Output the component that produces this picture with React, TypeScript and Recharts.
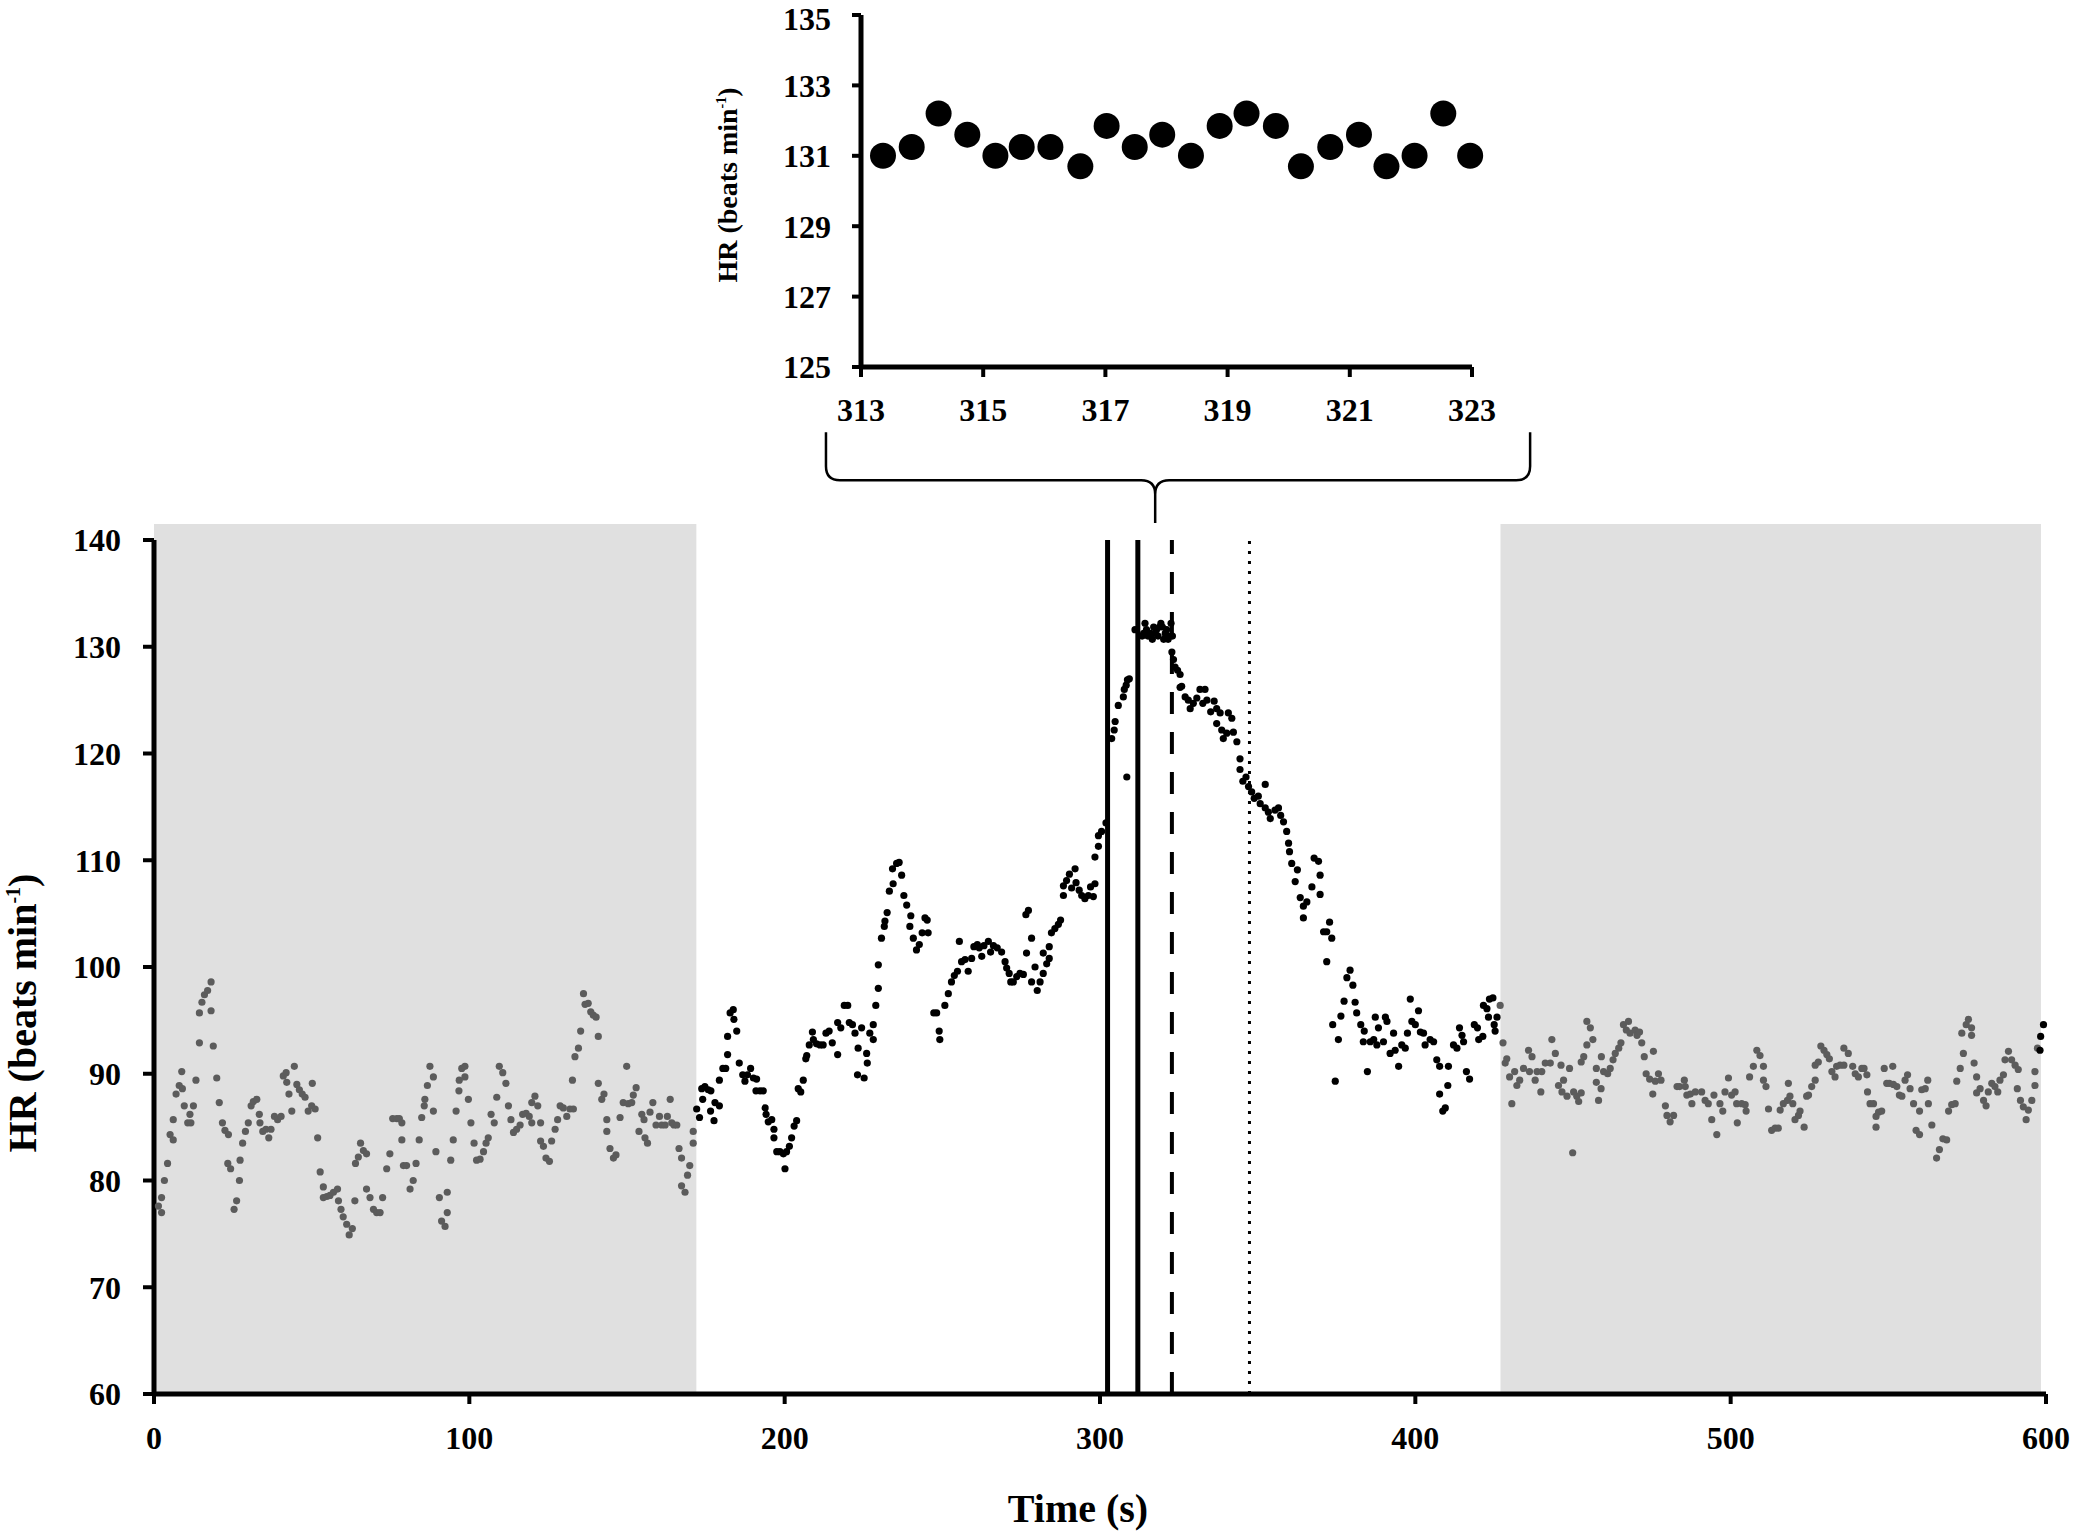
import React from 'react';
import { ScatterChart, Scatter, XAxis, YAxis, ReferenceArea, ReferenceLine, Label } from 'recharts';

// HR samples [time (s), HR (beats/min)]
const baselineHR: [number, number][] = [
  [1.4,77.6],[2.4,77.0],[2.4,78.4],[3.3,80.0],[4.3,81.6],[5.1,84.3],[6.1,83.8],[6.1,85.7],[7.0,88.1],[8.0,88.9],[8.8,90.2],[9.0,88.6],[9.6,87.0],[10.7,85.4],[11.4,86.2],[11.7,85.4],[12.5,87.0],[13.3,89.4],[14.4,92.9],[14.4,95.7],[15.2,96.7],[16.0,97.4],[17.0,97.8],[18.1,98.6],[18.1,95.9],[18.8,92.6],[19.9,89.6],[20.7,87.3],[21.7,85.4],[22.5,84.7],[23.6,84.3],[23.4,81.6],[24.3,81.1],[25.4,77.3],[26.2,78.1],[27.1,80.0],[27.3,81.9],[28.1,83.5],[29.0,84.6],[29.9,85.4],[30.8,87.0],[31.5,87.4],[32.6,87.6],[33.4,86.2],[33.6,85.4],[34.5,84.6],[35.5,84.8],[36.4,84.0],[37.1,84.8],[38.2,86.0],[39.2,85.7],[40.3,86.0],[41.0,89.8],[41.9,90.1],[42.1,89.2],[42.8,88.1],[43.7,86.5],[44.5,90.7],[45.3,89.0],[46.1,88.5],[47.0,88.1],[47.9,87.8],[48.9,86.5],[50.0,87.0],[50.2,89.1],[51.1,86.7],[51.9,84.0],[52.7,80.8],[53.7,79.4],[53.7,78.4],[54.8,78.5],[55.8,78.6],[56.9,78.9],[58.2,79.2],[58.5,78.1],[59.3,77.3],[60.0,76.6],[61.1,75.9],[61.9,74.9],[62.9,75.5],[63.7,78.1],[63.9,81.6],[64.8,82.2],[65.5,83.5],[66.4,82.8],[67.4,82.5],[67.4,79.2],[68.5,78.4],[69.6,77.3],[70.6,77.0],[71.7,77.0],[72.5,78.4],[73.8,81.1],[74.8,82.5],[75.7,85.8],[77.0,85.8],[77.8,85.8],[78.6,85.4],[78.6,83.8],[79.1,81.4],[80.1,81.4],[81.2,79.2],[82.2,80.0],[83.1,81.6],[84.1,83.8],[84.9,85.9],[85.7,87.0],[85.9,87.6],[86.7,88.9],[87.5,90.7],[88.6,89.7],[88.6,86.5],[89.4,82.7],[90.5,78.4],[91.2,76.2],[92.3,75.7],[93.0,77.0],[93.0,78.9],[94.1,81.9],[94.9,83.8],[95.8,86.5],[96.7,88.4],[96.8,89.4],[97.6,90.5],[98.6,90.7],[98.6,89.7],[99.7,87.6],[100.5,85.4],[101.5,83.5],[102.3,81.9],
  [103.4,82.0],[104.5,82.7],[105.3,83.5],[106.0,84.0],[106.9,86.2],[107.9,85.4],[108.7,87.8],[109.5,90.7],[110.6,90.1],[111.6,89.1],[112.4,87.0],[113.2,85.7],[114.0,84.5],[115.0,84.8],[116.1,85.2],[116.9,86.2],[118.0,86.3],[119.0,86.0],[119.8,85.4],[119.8,87.3],[120.8,87.9],[121.7,87.0],[122.6,85.4],[122.6,83.7],[123.5,83.2],[124.3,82.1],[125.4,81.8],[126.1,83.7],[127.2,84.8],[128.0,85.7],[128.8,87.0],[129.8,86.8],[130.9,86.0],[131.9,86.7],[133.0,86.7],[132.7,89.4],[133.5,91.6],[134.6,92.4],[135.3,94.0],[136.2,97.5],[136.7,96.5],[137.7,96.6],[138.5,95.8],[139.3,95.5],[140.2,95.3],[140.9,93.5],[140.9,89.1],[142.0,87.6],[142.7,88.1],[143.6,85.7],[143.6,84.6],[144.6,83.0],[145.7,82.1],[146.5,82.4],[147.8,85.9],[148.8,87.3],[149.9,90.7],[150.4,87.2],[151.5,87.3],[152.0,88.0],[152.9,88.7],[153.8,84.6],[154.7,86.2],[155.4,85.7],[155.7,84.0],[156.5,83.5],[157.3,86.4],[158.2,87.3],[159.2,85.2],[160.3,86.0],[161.0,85.2],[162.1,85.2],[162.8,86.0],[163.7,87.6],[164.2,85.4],[164.9,85.2],[165.8,85.2],[166.5,83.0],[167.3,82.1],[167.3,79.5],[168.4,78.9],[169.2,80.5],[169.9,81.4],[171.0,83.5],[171.0,84.6],
];

const exerciseHR: [number, number][] = [
  [172.1,86.7],[173.0,85.9],[173.7,88.6],[174.0,87.6],[174.7,88.8],[175.8,88.5],[176.5,86.5],[176.6,88.4],[177.6,85.6],[177.9,87.3],[179.3,87.0],[179.3,89.4],[180.4,90.5],[181.3,90.5],[181.9,91.8],[181.9,93.5],[182.7,95.7],[183.7,96.0],[183.9,95.1],[184.8,94.0],[185.6,91.0],[186.7,89.9],[187.4,89.3],[188.2,89.9],[189.2,90.5],[190.1,89.6],[190.9,88.4],[191.1,89.5],[192.2,88.4],[193.2,88.4],[193.8,86.8],[194.1,86.2],[194.8,85.5],[195.9,85.7],[196.6,84.8],[196.6,84.0],[197.5,82.7],[198.5,82.7],
  [199.6,82.5],[200.1,81.1],[200.6,82.7],[201.5,83.2],[202.2,84.0],[203.0,85.1],[203.8,85.6],[204.3,88.6],[205.1,88.3],[205.9,89.4],[206.7,91.4],[207.0,91.7],[207.8,92.7],[208.8,93.9],[209.1,93.2],[210.1,92.8],[211.2,92.7],[212.2,92.7],[213.1,93.8],[214.1,94.0],[215.1,92.9],[216.8,91.8],[216.8,94.8],[217.8,94.3],[218.9,96.4],[220.0,96.4],[220.5,94.8],[221.5,94.6],[222.3,93.8],[223.3,92.4],[223.1,89.9],[224.4,94.3],[225.2,89.6],[226.0,91.9],[226.2,91.0],[227.0,93.8],[228.1,93.2],[228.1,94.6],[228.9,96.4],[229.7,98.0],[229.7,100.2],[230.7,102.7],[231.6,103.8],[231.8,104.3],[232.5,105.1],[233.2,107.1],[234.4,107.8],[234.2,109.2],[235.5,109.7],[236.3,109.8],[237.1,108.6],[237.8,106.7],[238.7,105.8],[240.0,104.8],[239.7,103.8],[240.8,102.7],[241.8,101.6],[242.7,102.1],[243.6,103.2],[244.5,104.6],[245.2,104.4],[245.5,103.2],[247.3,95.7],[248.2,95.7],[249.0,94.0],[249.2,93.2],[250.8,96.4],[251.9,97.5],[252.9,98.6],[253.8,99.2],[254.8,99.6],[255.4,102.4],[256.1,100.5],[257.2,100.7],[258.2,99.6],[259.3,100.8],[260.0,101.9],[261.1,102.1],[261.7,101.8],[262.5,101.0],[263.2,102.0],[264.6,102.4],[265.3,101.4],[266.2,102.0],[267.4,101.8],[268.8,101.4],[269.9,100.5],[270.4,99.9],[271.2,99.4],[271.7,98.6],[272.5,98.6],[273.6,99.1],[274.6,99.4],[275.7,99.3],[276.5,104.9],[277.3,105.3],[276.7,101.3],[278.3,102.7],[278.3,98.6],[279.4,100.0],[280.1,97.8],[281.0,98.6],[282.0,99.4],[282.0,101.3],[283.1,100.3],[283.9,101.9],[283.9,100.8],[284.6,103.2],[285.7,103.6],[286.8,104.0],[287.5,104.4],[288.4,106.7],[288.4,107.6],[289.4,108.1],[290.3,108.7],[291.0,107.4],[292.1,109.2],[292.4,107.9],[293.4,107.2],[294.2,106.7],[295.2,106.4],[296.3,106.7],[297.0,107.5],[297.9,106.6],[298.4,107.8],[298.4,110.3],[299.5,111.3],[299.5,112.3],[300.5,112.7],[301.9,113.5],
  [303.7,121.4],[304.5,122.2],[304.8,123.0],[305.8,124.5],[307.4,125.3],[307.7,126.0],[308.3,126.4],[308.5,117.8],[308.7,126.9],[309.3,127.0],[311.1,131.6],
  [322.8,129.5],[323.3,128.8],[323.8,128.1],[324.6,127.8],[325.4,127.4],[325.9,126.3],[325.4,126.2],[327.0,125.3],[328.0,125.0],[328.6,124.2],[329.6,124.7],[330.7,125.2],[331.7,126.0],[332.6,124.7],[333.3,126.0],[333.9,125.0],[335.1,123.9],[336.2,124.9],[337.0,124.2],[337.0,122.8],[338.1,123.8],[338.6,122.2],[339.1,121.4],[340.2,121.9],[340.7,123.8],[341.8,123.3],[342.3,122.0],[343.4,121.1],[344.4,119.5],[344.4,118.5],[345.3,117.4],[346.3,117.8],[347.1,116.9],[348.1,116.4],[348.9,115.8],[350.2,116.0],[350.8,115.3],[352.4,117.1],[352.4,114.9],[353.4,114.5],[354.0,113.9],[355.5,114.7],[356.6,114.9],[357.3,114.2],[358.2,113.6],[359.2,112.7],[359.8,111.6],[360.1,110.8],[360.8,109.7],[361.9,108.0],[362.6,109.1],[363.5,106.5],[364.5,105.7],[364.5,104.6],[365.6,106.1],[367.2,107.5],[367.9,110.2],[369.3,109.9],[369.8,108.6],[369.8,106.8],[370.9,103.3],[371.9,103.3],[372.8,104.2],[373.5,102.7],[371.9,100.5],[373.8,94.6],[374.6,89.3],[375.6,93.2],[376.4,95.4],[377.4,96.8],[378.3,99.0],[379.3,99.7],[380.2,98.3],[380.9,96.7],[381.4,95.7],[382.7,94.6],[383.8,94.0],[383.5,93.0],[384.8,90.2],[385.7,93.0],
  [386.8,93.2],[387.3,95.3],[388.3,94.3],[387.8,92.7],[389.9,93.0],[390.5,95.3],[391.0,94.9],[392.0,91.9],[393.1,93.8],[393.6,92.2],[394.7,90.7],[395.7,92.7],[396.8,92.4],[397.5,93.8],[398.4,97.0],[398.9,94.9],[400.0,94.6],[401.0,95.9],[401.6,93.9],[402.6,93.8],[403.1,92.7],[404.7,93.2],[405.8,93.0],[406.8,91.3],[407.7,90.7],[407.7,88.1],[408.7,86.5],[409.5,86.8],[410.3,88.9],[410.5,90.7],[412.1,92.7],[413.2,92.4],[414.0,94.3],[414.8,93.6],[415.3,93.0],[416.2,90.2],[417.2,89.5],[418.7,94.6],[419.7,94.3],[420.1,93.2],[421.4,93.5],[421.6,96.4],[422.7,96.1],[423.5,97.0],[424.6,97.1],[423.2,95.3],[425.0,94.6],[425.3,94.0],[425.9,95.3],
];

const recoveryHR: [number, number][] = [
  [426.9,96.4],[427.8,92.9],[428.5,91.0],[429.0,91.4],[429.9,89.7],[430.6,87.2],[431.5,90.2],[432.2,88.9],[433.1,89.4],[434.3,90.5],[435.9,92.2],[436.2,90.2],[437.0,91.6],[438.0,89.4],[438.6,90.2],[439.8,88.3],[440.1,90.2],[441.2,91.0],[442.8,91.0],[443.3,93.2],[444.4,91.9],[445.4,88.9],[446.2,90.8],[446.5,88.3],[447.0,89.4],[448.1,87.9],[448.9,90.5],[449.9,82.6],[450.2,88.3],[451.2,87.9],[451.8,87.4],[452.6,88.2],[452.6,91.1],[453.4,91.6],[454.4,92.7],[454.4,94.9],[455.5,94.3],[456.3,93.2],[457.4,90.5],[457.4,89.2],[458.1,87.5],[458.9,88.6],[459.0,91.6],[459.7,90.2],[461.0,90.0],[461.8,90.5],[462.7,91.3],[463.4,91.9],[464.5,92.4],[465.2,92.9],[466.0,94.6],[466.9,94.1],[467.6,94.9],[468.1,93.8],[469.7,94.1],[470.3,93.6],[471.1,93.9],[471.8,92.9],[472.6,91.6],[473.2,90.0],[474.3,89.5],[475.3,88.1],[475.5,92.1],[476.1,89.3],[477.1,90.0],[477.9,89.4],[479.3,87.0],[479.8,86.1],[480.8,85.5],[481.9,86.1],[483.0,88.8],[483.8,88.8],[485.3,89.4],[485.6,88.8],[486.1,88.0],[487.2,88.1],[487.7,87.2],[488.8,88.3],
  [490.8,88.3],[491.9,87.5],[492.9,87.2],[494.0,85.7],[494.7,88.0],[495.6,84.3],[496.6,87.2],[497.5,86.5],[498.2,88.3],[499.3,89.6],[500.3,88.0],[501.4,88.3],[501.9,87.2],[502.1,85.4],[503.5,87.2],[504.6,87.1],[504.9,86.5],[506.0,89.7],[507.2,90.7],[508.3,92.2],[509.3,91.7],[510.4,90.7],[510.4,89.4],[511.2,88.8],[512.0,86.7],[513.0,84.7],[514.1,84.9],[515.1,84.9],[515.7,86.6],[516.7,87.2],[518.0,87.5],[518.3,89.1],[518.8,87.9],[519.7,87.2],[520.4,85.7],[521.5,86.1],[522.0,86.5],[523.3,85.0],[524.1,87.9],[524.7,88.0],[525.7,88.8],[526.8,89.4],[526.8,90.8],[527.8,91.1],[528.6,92.6],[529.6,92.2],[530.5,91.8],[531.3,91.4],[532.1,90.2],[533.1,89.7],[533.6,90.7],[534.7,90.8],[535.9,90.8],[535.9,92.4],[537.3,91.9],[538.7,90.7],[539.5,90.0],[540.5,89.7],[541.6,90.5],[542.3,90.5],[543.2,89.9],[543.4,88.3],[544.2,87.2],[545.3,87.2],[546.1,86.0],[546.1,85.0],[546.9,86.4],[547.9,86.5],[548.7,90.5],[549.5,89.1],[550.3,89.1],[551.4,90.7],[551.6,89.0],[552.7,88.8],[553.5,88.0],[554.3,87.9],[555.3,89.4],[556.1,89.9],[556.9,88.6],[558.0,87.2],[558.8,84.7],[559.9,86.5],[559.9,84.3],[560.6,88.5],[561.7,88.6],[562.5,89.4],[562.7,87.2],[563.8,85.2],[565.3,82.1],[566.2,82.9],[567.3,83.9],[568.5,83.8],[569.1,86.5],[570.1,87.1],[571.2,87.2],[571.7,89.3],[572.8,90.5],[573.3,93.8],[573.8,91.9],[574.7,94.6],[575.4,95.1],[576.4,94.3],[576.4,93.6],[577.2,91.0],[578.0,89.7],[578.0,88.2],[579.1,88.6],[580.2,87.5],[581.0,87.0],[581.7,88.3],[582.8,89.1],[583.8,88.8],[584.7,88.3],[585.4,89.4],[586.5,89.9],[587.0,91.3],[588.1,92.1],[589.1,91.3],[590.2,90.8],[590.9,88.6],[591.2,90.4],[591.9,87.5],[592.8,86.9],[593.7,85.7],[594.4,86.6],[595.5,87.5],[596.5,88.9],[596.5,90.2],[597.3,92.4],
];

const finalHR: [number, number][] = [[598.1,92.2],[598.3,93.5],[599.2,94.6]];

// zoomed window 313-323 s
const insetTime = [313.36,313.83,314.27,314.74,315.2,315.63,316.1,316.59,317.02,317.48,317.93,318.4,318.87,319.31,319.79,320.2,320.68,321.15,321.6,322.06,322.53,322.97];
const insetHR = [131.0,131.25,132.2,131.6,131.0,131.25,131.25,130.7,131.85,131.25,131.6,131.0,131.85,132.2,131.85,130.7,131.25,131.6,130.7,131.0,132.2,131.0];

const mainXTicks = [0, 100, 200, 300, 400, 500, 600];
const mainYTicks = [60, 70, 80, 90, 100, 110, 120, 130, 140];
const insetXTicks = [313, 315, 317, 319, 321, 323];
const insetYTicks = [125, 127, 129, 131, 133, 135];

// rest periods (grey), event markers, brace linking to the inset
const restBands: [number, number][] = [[0, 172], [427, 598.4]];
const solidMarkers = [302.4, 312];
const dashedMarker = 322.8;
const dottedMarker = 347.4;
const braceStart = 213.1;
const braceEnd = 436.4;
const braceTip = 317.5;

const FONT = "'Liberation Serif', 'Times New Roman', serif";
const toPoints = (pairs: [number, number][]) => pairs.map(([t, hr]) => ({ t, hr }));
const insetPoints = insetTime.map((t, i) => ({ t, hr: insetHR[i] }));
const greyPoints = [...toPoints(baselineHR), ...toPoints(recoveryHR)];
const blackPoints = [...toPoints(exerciseHR), ...insetPoints, ...toPoints(finalHR)];

const tickStyle = { fill: '#000', fontSize: 32, fontWeight: 700, fontFamily: FONT };

const dot = (r: number, fill: string) => (props: any) =>
  <circle cx={props.cx} cy={props.cy} r={r} fill={fill} />;

// rotated axis title; x is the baseline position
const HrTitle = ({ x, y, size }: { x: number; y: number; size: number }) => (
  <text x={x} y={y} transform={`rotate(-90 ${x} ${y})`} textAnchor="middle"
    fontFamily={FONT} fontWeight={700} fontSize={size} fill="#000">
    HR (beats min<tspan fontSize={size * 0.5} dy={-size * 0.4}>-1</tspan><tspan dy={size * 0.4}>)</tspan>
  </text>
);

const Brace = (props: any) => {
  const { x, y, width, height } = props;
  const tipX = x + width * ((braceTip - braceStart) / (braceEnd - braceStart));
  const barY = y + height * 0.53;
  const r = 14;
  const right = x + width;
  const d = `M${x},${y} L${x},${barY - r} Q${x},${barY} ${x + r},${barY} L${tipX - r},${barY} Q${tipX},${barY} ${tipX},${barY + r} L${tipX},${y + height}`
    + ` M${right},${y} L${right},${barY - r} Q${right},${barY} ${right - r},${barY} L${tipX + r},${barY} Q${tipX},${barY} ${tipX},${barY + r}`;
  return <path d={d} fill="none" stroke="#000" strokeWidth={2.5} />;
};

export default function App() {
  return (
    <div style={{ position: 'absolute', left: 0, top: 0, width: 2076, height: 1533, background: '#fff' }}>
      <ScatterChart width={2076} height={1533} margin={{ top: 540, right: 30, bottom: 79, left: 0 }}>
        {restBands.map(([a, b]) => (
          <ReferenceArea key={a} x1={a} x2={b} y1={60} y2={141.5} fill="#e0e0e0" fillOpacity={1} stroke="none" ifOverflow="visible" />
        ))}
        <ReferenceArea x1={braceStart} x2={braceEnd} y1={141.6} y2={150.1} ifOverflow="visible" shape={Brace} />
        <XAxis type="number" dataKey="t" domain={[0, 600]} ticks={mainXTicks} height={60}
          axisLine={{ stroke: '#000', strokeWidth: 5 }} tickLine={{ stroke: '#000', strokeWidth: 4 }}
          tickSize={10} tickMargin={22} tick={tickStyle}>
          <Label content={(p: any) => (
            <text x={p.viewBox.x + p.viewBox.width / 2 - 22} y={p.viewBox.y + 114} textAnchor="middle" dominantBaseline="central"
              fontFamily={FONT} fontWeight={700} fontSize={40} fill="#000">Time (s)</text>
          )} />
        </XAxis>
        <YAxis type="number" dataKey="hr" domain={[60, 140]} ticks={mainYTicks} width={154}
          axisLine={{ stroke: '#000', strokeWidth: 5 }} tickLine={{ stroke: '#000', strokeWidth: 4 }}
          tickSize={11} tickMargin={22} tick={tickStyle}>
          <Label content={(p: any) => (
            <HrTitle x={p.viewBox.x + 36} y={p.viewBox.y + p.viewBox.height / 2 + 46} size={40} />
          )} />
        </YAxis>
        <Scatter data={greyPoints} shape={dot(3.6, '#5c5c5c')} isAnimationActive={false} />
        <Scatter data={blackPoints} shape={dot(3.6, '#000')} isAnimationActive={false} />
        {solidMarkers.map((m) => (
          <ReferenceLine key={m} x={m} stroke="#000" strokeWidth={5} />
        ))}
        <ReferenceLine x={dashedMarker} stroke="#000" strokeWidth={4} strokeDasharray="22 18" />
        <ReferenceLine x={dottedMarker} stroke="#000" strokeWidth={3} strokeDasharray="3 7" />
      </ScatterChart>

      <div style={{ position: 'absolute', left: 700, top: 0 }}>
        <ScatterChart width={800} height={440} margin={{ top: 15, right: 28, bottom: 13, left: 0 }}>
          <XAxis type="number" dataKey="t" domain={[313, 323]} ticks={insetXTicks} height={60}
            axisLine={{ stroke: '#000', strokeWidth: 5 }} tickLine={{ stroke: '#000', strokeWidth: 4 }}
            tickSize={10} tickMargin={21} tick={tickStyle} />
          <YAxis type="number" dataKey="hr" domain={[125, 135]} ticks={insetYTicks} width={161}
            axisLine={{ stroke: '#000', strokeWidth: 5 }} tickLine={{ stroke: '#000', strokeWidth: 4 }}
            tickSize={9} tickMargin={21} tick={tickStyle}>
            <Label content={(p: any) => (
              <HrTitle x={p.viewBox.x + 37} y={p.viewBox.y + p.viewBox.height / 2 - 6} size={28} />
            )} />
          </YAxis>
          <Scatter data={insetPoints} shape={dot(13, '#000')} isAnimationActive={false} />
        </ScatterChart>
      </div>
    </div>
  );
}
